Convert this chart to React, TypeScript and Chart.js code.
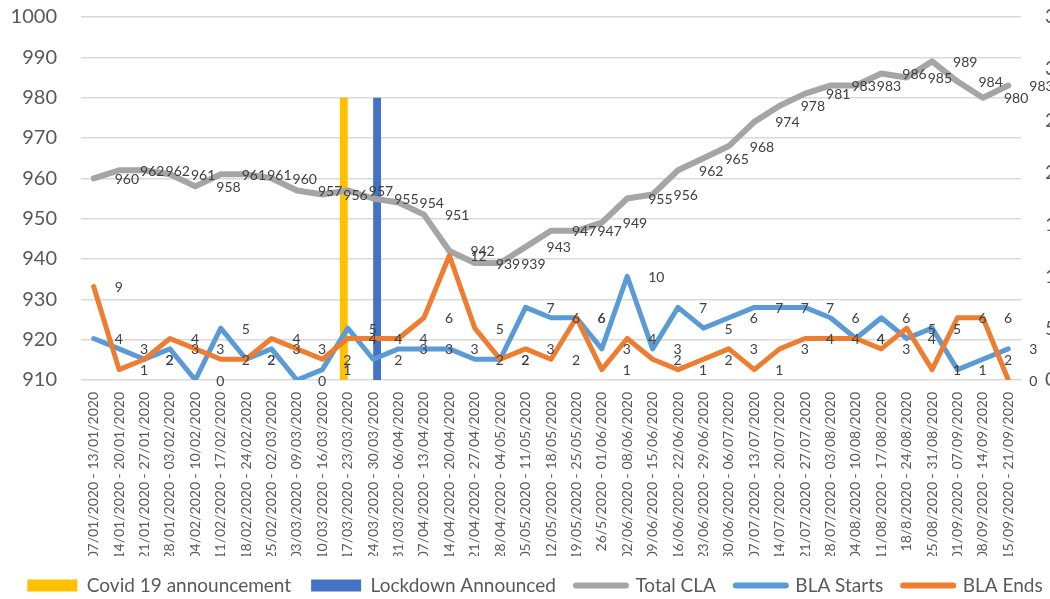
import React, { useEffect, useRef } from 'react';
import { Chart, registerables } from 'chart.js';

Chart.register(...registerables);

const weeks: string[] = [
  '07/01/2020 - 13/01/2020', '14/01/2020 - 20/01/2020', '21/01/2020 - 27/01/2020',
  '28/01/2020 - 03/02/2020', '04/02/2020 - 10/02/2020', '11/02/2020 - 17/02/2020',
  '18/02/2020 - 24/02/2020', '25/02/2020 - 02/03/2020', '03/03/2020 - 09/03/2020',
  '10/03/2020 - 16/03/2020', '17/03/2020 - 23/03/2020', '24/03/2020 - 30/03/2020',
  '31/03/2020 - 06/04/2020', '07/04/2020 - 13/04/2020', '14/04/2020 - 20/04/2020',
  '21/04/2020 - 27/04/2020', '28/04/2020 - 04/05/2020', '05/05/2020 - 11/05/2020',
  '12/05/2020 - 18/05/2020', '19/05/2020 - 25/05/2020', '26/5/2020 - 01/06/2020',
  '02/06/2020 - 08/06/2020', '09/06/2020 - 15/06/2020', '16/06/2020 - 22/06/2020',
  '23/06/2020 - 29/06/2020', '30/06/2020 - 06/07/2020', '07/07/2020 - 13/07/2020',
  '14/07/2020 - 20/07/2020', '21/07/2020 - 27/07/2020', '28/07/2020 - 03/08/2020',
  '04/08/2020 - 10/08/2020', '11/08/2020 - 17/08/2020', '18/8/2020 - 24/08/2020',
  '25/08/2020 - 31/08/2020', '01/09/2020 - 07/09/2020', '08/09/2020 - 14/09/2020',
  '15/09/2020 - 21/09/2020',
];

const totalCLA: number[] = [
  960, 962, 962, 961, 958, 961, 961, 960, 957, 956, 957, 955, 954, 951, 942, 939, 939,
  943, 947, 947, 949, 955, 956, 962, 965, 968, 974, 978, 981, 983, 983, 986, 985, 989,
  984, 980, 983,
];

const blaStarts: number[] = [
  4, 3, 2, 3, 0, 5, 2, 3, 0, 1, 5, 2, 3, 3, 3, 2, 2, 7, 6, 6, 3, 10, 3, 7, 5, 6, 7, 7,
  7, 6, 4, 6, 4, 5, 1, 2, 3,
];

const blaEnds: number[] = [
  9, 1, 2, 4, 3, 2, 2, 4, 3, 2, 4, 4, 4, 6, 12, 5, 2, 3, 2, 6, 1, 4, 2, 1, 2, 3, 1, 3,
  4, 4, 4, 3, 5, 1, 6, 6, 0,
];

const covidAnnouncement: (number | null)[] = [
  null, null, null, null, null, null, null, null, null, null, 980, null, null, null, null,
  null, null, null, null, null, null, null, null, null, null, null, null, null, null, null,
  null, null, null, null, null, null, null,
];

const lockdownAnnounced: (number | null)[] = [
  null, null, null, null, null, null, null, null, null, null, null, 980, null, null, null,
  null, null, null, null, null, null, null, null, null, null, null, null, null, null, null,
  null, null, null, null, null, null, null,
];

const leftAxisRange = [910, 1000, 10];
const rightAxisRange = [0, 35, 5];

const FONT = 'Lato, "Open Sans", sans-serif';
const AXIS_COLOR = '#595959';
const CANVAS_W = 1070;
const CANVAS_H = 605;

const valueLabels = {
  id: 'valueLabels',
  afterDatasetsDraw(chart: any) {
    const ctx = chart.ctx;
    ctx.save();
    ctx.font = `14px ${FONT}`;
    ctx.fillStyle = '#404040';
    ctx.textAlign = 'left';
    ctx.textBaseline = 'middle';
    chart.data.datasets.forEach((ds: any, i: number) => {
      if (ds.type !== 'line') return;
      const meta = chart.getDatasetMeta(i);
      meta.data.forEach((pt: any, j: number) => {
        const v = ds.data[j];
        if (v === null || v === undefined) return;
        ctx.fillText(String(v), pt.x + 21, pt.y + 1);
      });
    });
    ctx.restore();
  },
};

export default function App() {
  const canvasRef = useRef<HTMLCanvasElement | null>(null);

  useEffect(() => {
    if (!canvasRef.current) return;
    const chart = new Chart(canvasRef.current, {
      type: 'bar',
      data: {
        labels: weeks,
        datasets: [
          {
            type: 'bar',
            label: 'Covid 19 announcement',
            data: covidAnnouncement,
            backgroundColor: '#FFC000',
            yAxisID: 'y',
            categoryPercentage: 0.62,
            barPercentage: 1,
            order: 4,
          } as any,
          {
            type: 'bar',
            label: 'Lockdown Announced',
            data: lockdownAnnounced,
            backgroundColor: '#4472C4',
            yAxisID: 'y',
            categoryPercentage: 0.62,
            barPercentage: 1,
            order: 4,
          } as any,
          {
            type: 'line',
            label: 'Total CLA',
            data: totalCLA,
            borderColor: '#A5A5A5',
            backgroundColor: '#A5A5A5',
            borderWidth: 6,
            pointRadius: 0,
            tension: 0,
            borderJoinStyle: 'round',
            borderCapStyle: 'round',
            yAxisID: 'y',
            order: 3,
          } as any,
          {
            type: 'line',
            label: 'BLA Starts',
            data: blaStarts,
            borderColor: '#5B9BD5',
            backgroundColor: '#5B9BD5',
            borderWidth: 5,
            pointRadius: 0,
            tension: 0,
            borderJoinStyle: 'round',
            borderCapStyle: 'round',
            yAxisID: 'y1',
            order: 2,
          } as any,
          {
            type: 'line',
            label: 'BLA Ends',
            data: blaEnds,
            borderColor: '#ED7D31',
            backgroundColor: '#ED7D31',
            borderWidth: 5,
            pointRadius: 0,
            tension: 0,
            borderJoinStyle: 'round',
            borderCapStyle: 'round',
            yAxisID: 'y1',
            order: 1,
          } as any,
        ],
      },
      options: {
        responsive: false,
        animation: false,
        devicePixelRatio: 1,
        layout: { padding: 0 },
        plugins: {
          tooltip: { enabled: false },
          legend: {
            position: 'bottom',
            labels: {
              usePointStyle: true,
              pointStyleWidth: 50,
              boxHeight: 12,
              padding: 20,
              color: AXIS_COLOR,
              font: { family: FONT, size: 19 },
              sort: (a: any, b: any) => a.datasetIndex - b.datasetIndex,
              generateLabels: (chart: any) =>
                chart.data.datasets.map((ds: any, i: number) => {
                  const isLine = ds.type === 'line';
                  return {
                    text: ds.label,
                    fillStyle: isLine ? ds.borderColor : ds.backgroundColor,
                    strokeStyle: isLine ? ds.borderColor : ds.backgroundColor,
                    lineWidth: isLine ? 6 : 0,
                    lineCap: 'round',
                    pointStyle: isLine ? 'line' : 'rect',
                    hidden: false,
                    datasetIndex: i,
                    fontColor: AXIS_COLOR,
                  };
                }),
            },
          },
        },
        scales: {
          x: {
            offset: true,
            grid: { display: false, drawTicks: false },
            border: { display: false },
            ticks: {
              autoSkip: false,
              maxRotation: 90,
              minRotation: 90,
              padding: 12,
              color: AXIS_COLOR,
              font: { family: FONT, size: 14 },
            },
            afterFit: (scale: any) => {
              scale.height = 176;
            },
          },
          y: {
            position: 'left',
            min: leftAxisRange[0],
            max: leftAxisRange[1],
            ticks: {
              stepSize: leftAxisRange[2],
              padding: 5,
              color: AXIS_COLOR,
              font: { family: FONT, size: 20 },
              callback: (v: any) => String(v),
            },
            grid: {
              color: '#D9D9D9',
              lineWidth: 1.5,
              drawTicks: true,
              tickLength: 19,
              tickColor: 'rgba(0,0,0,0)',
            },
            border: { display: false },
            afterFit: (scale: any) => {
              scale.width = 81;
            },
          },
          y1: {
            position: 'right',
            min: rightAxisRange[0],
            max: rightAxisRange[1],
            ticks: {
              stepSize: rightAxisRange[2],
              padding: 5,
              color: AXIS_COLOR,
              font: { family: FONT, size: 20 },
              callback: (v: any) => String(v),
            },
            grid: {
              display: true,
              drawOnChartArea: false,
              color: 'rgba(0,0,0,0)',
              drawTicks: true,
              tickLength: 19,
              tickColor: 'rgba(0,0,0,0)',
            },
            border: { display: false },
            afterFit: (scale: any) => {
              scale.width = CANVAS_W - 1021;
            },
          },
        },
      } as any,
      plugins: [valueLabels],
    });
    return () => chart.destroy();
  }, []);

  return (
    <div
      style={{
        position: 'fixed',
        left: 0,
        top: 0,
        width: 1050,
        height: 599,
        overflow: 'hidden',
        background: '#ffffff',
      }}
    >
      <canvas
        ref={canvasRef}
        width={CANVAS_W}
        height={CANVAS_H}
        style={{ width: CANVAS_W, height: CANVAS_H }}
      />
    </div>
  );
}
